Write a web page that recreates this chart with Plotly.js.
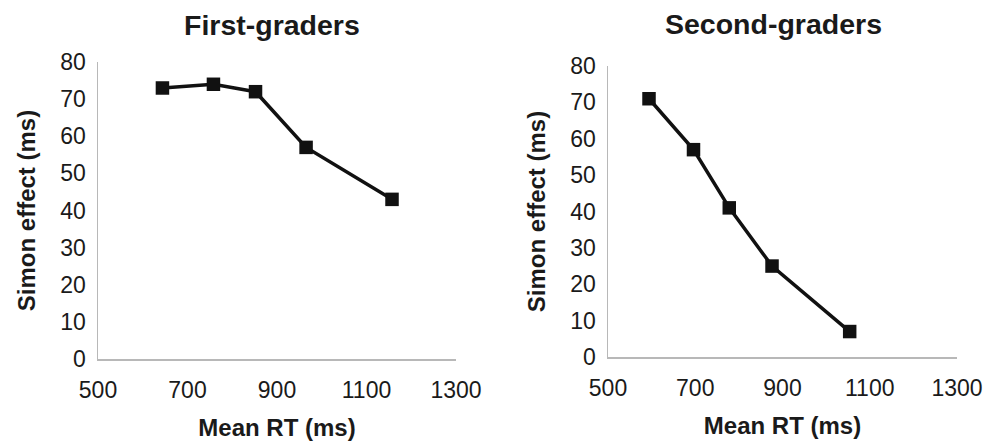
<!DOCTYPE html>
<html>
<head>
<meta charset="utf-8">
<script src="https://cdn.plot.ly/plotly-3.0.1.min.js"></script>
<style>html,body{margin:0;padding:0;background:#fff;}#chart{width:989px;height:442px;}</style>
</head>
<body>
<div id="chart"></div>
<script>
// Data
const panelTitles = ["First-graders", "Second-graders"];
const firstRT = [644, 758, 852, 965, 1157];
const firstSimon = [73, 74, 72, 57, 43];
const secondRT = [594, 696, 778, 876, 1054];
const secondSimon = [71, 57, 41, 25, 7];
const xTicks = [500, 700, 900, 1100, 1300];
const yTicks = [0, 10, 20, 30, 40, 50, 60, 70, 80];
const xTitle = "Mean RT (ms)";
const yTitle = "Simon effect (ms)";

const FONT = "Liberation Sans, Arial, Helvetica, sans-serif";
const lineStyle = {color: "#111111", width: 3.5};
const markerStyle = {symbol: "square", size: 13.5, color: "#111111"};

const traces = [
  {x: firstRT, y: firstSimon, xaxis: "x", yaxis: "y", mode: "lines+markers",
   line: lineStyle, marker: markerStyle, showlegend: false, hoverinfo: "x+y"},
  {x: secondRT, y: secondSimon, xaxis: "x2", yaxis: "y2", mode: "lines+markers",
   line: lineStyle, marker: markerStyle, showlegend: false, hoverinfo: "x+y"}
];

function xAxis(domain, anchor) {
  return {
    domain: domain, anchor: anchor, range: [500, 1300],
    tickvals: xTicks, ticktext: xTicks.map(String), ticks: "outside", ticklen: 10,
    tickcolor: "rgba(0,0,0,0)", showgrid: false, zeroline: false,
    showline: true, linecolor: "#b8b8b8", linewidth: 1.5,
    tickfont: {family: FONT, size: 23, color: "#1a1a1a"},
    title: {text: "<b>" + xTitle + "</b>", font: {family: FONT, size: 24, color: "#1a1a1a"}, standoff: 17}
  };
}
function yAxis(domain, anchor) {
  return {
    domain: domain, anchor: anchor, range: [0, 80],
    tickvals: yTicks, ticktext: yTicks.map(String), ticks: "outside", ticklen: 6,
    tickcolor: "rgba(0,0,0,0)", showgrid: false, zeroline: false,
    showline: true, linecolor: "#b8b8b8", linewidth: 1.5,
    tickfont: {family: FONT, size: 23, color: "#1a1a1a"},
    title: {text: "<b>" + yTitle + "</b>", font: {family: FONT, size: 24, color: "#1a1a1a"}, standoff: 18}
  };
}

const W = 989, H = 442;
const layout = {
  width: W, height: H,
  margin: {l: 0, r: 0, t: 0, b: 0},
  paper_bgcolor: "#ffffff", plot_bgcolor: "#ffffff",
  xaxis: xAxis([98 / W, 456 / W], "y"),
  yaxis: yAxis([(H - 359) / H, (H - 62) / H], "x"),
  xaxis2: xAxis([608 / W, 957 / W], "y2"),
  yaxis2: yAxis([(H - 357) / H, (H - 66) / H], "x2"),
  annotations: [
    {text: "<b>" + panelTitles[0] + "</b>", xref: "paper", yref: "paper",
     x: 272 / W, y: (H - 25) / H, xanchor: "center", yanchor: "middle", showarrow: false,
     font: {family: FONT, size: 28.5, color: "#1a1a1a"}},
    {text: "<b>" + panelTitles[1] + "</b>", xref: "paper", yref: "paper",
     x: 773 / W, y: (H - 24) / H, xanchor: "center", yanchor: "middle", showarrow: false,
     font: {family: FONT, size: 28.5, color: "#1a1a1a"}}
  ]
};

Plotly.newPlot("chart", traces, layout, {displayModeBar: false, staticPlot: true});
</script>
</body>
</html>
